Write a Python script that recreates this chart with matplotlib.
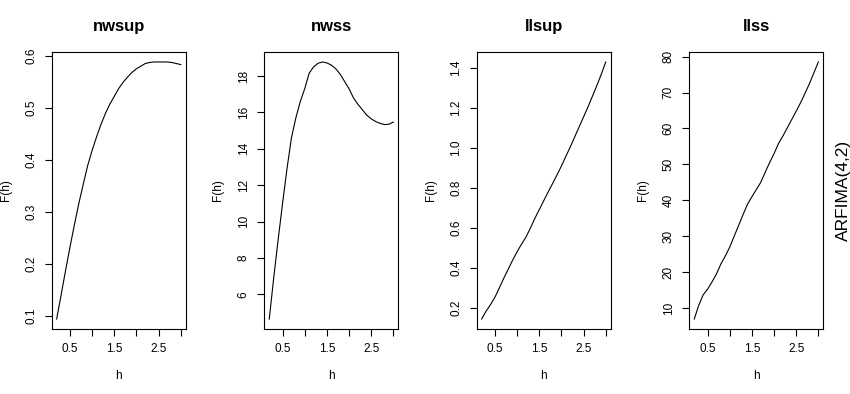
import numpy as np
import matplotlib
matplotlib.use('Agg')
from matplotlib import pyplot as plt

plt.rcParams['font.family'] = ['Liberation Sans', 'DejaVu Sans']

h = [0.2, 0.3, 0.4, 0.5, 0.6, 0.7, 0.8, 0.9, 1.0, 1.1, 1.2, 1.3, 1.4, 1.5, 1.6,
     1.7, 1.8, 1.9, 2.0, 2.1, 2.2, 2.3, 2.4, 2.5, 2.6, 2.7, 2.8, 2.9, 3.0]

nwsup = [0.094, 0.140, 0.187, 0.232, 0.275, 0.316, 0.353, 0.389, 0.418, 0.444,
         0.468, 0.489, 0.507, 0.522, 0.537, 0.549, 0.559, 0.568, 0.575, 0.580,
         0.585, 0.587, 0.588, 0.588, 0.588, 0.588, 0.587, 0.585, 0.583]
nwss = [4.65, 6.9, 9.0, 11.0, 12.9, 14.6, 15.7, 16.6, 17.3, 18.15,
        18.5, 18.7, 18.77, 18.72, 18.6, 18.4, 18.1, 17.7, 17.3, 16.8,
        16.45, 16.15, 15.85, 15.65, 15.5, 15.4, 15.33, 15.35, 15.47]
llsup = [0.146, 0.185, 0.218, 0.255, 0.302, 0.350, 0.395, 0.440, 0.482, 0.520,
         0.555, 0.600, 0.648, 0.692, 0.736, 0.780, 0.822, 0.865, 0.910, 0.958,
         1.005, 1.055, 1.105, 1.155, 1.205, 1.258, 1.312, 1.368, 1.429]
llss = [7.0, 10.8, 13.7, 15.3, 17.3, 19.5, 22.3, 24.5, 27.0, 30.0,
        33.0, 36.0, 38.9, 41.0, 43.0, 45.0, 47.8, 50.5, 53.0, 55.8,
        57.9, 60.2, 62.5, 64.8, 67.2, 69.8, 72.5, 75.5, 78.5]

titles = ['nwsup', 'nwss', 'llsup', 'llss']
series = [nwsup, nwss, llsup, llss]
yticks = [[0.1, 0.2, 0.3, 0.4, 0.5, 0.6],
          [6, 8, 10, 12, 14, 16, 18],
          [0.2, 0.4, 0.6, 0.8, 1.0, 1.2, 1.4],
          [10, 20, 30, 40, 50, 60, 70, 80]]
ylabels = [['0.1', '0.2', '0.3', '0.4', '0.5', '0.6'],
           ['6', '8', '10', '12', '14', '16', '18'],
           ['0.2', '0.4', '0.6', '0.8', '1.0', '1.2', '1.4'],
           ['10', '20', '30', '40', '50', '60', '70', '80']]
xticks = [0.5, 1.0, 1.5, 2.0, 2.5, 3.0]
xlabels = ['0.5', '', '1.5', '', '2.5', '']

W, H = 850, 394
fig = plt.figure(figsize=(W / 100, H / 100), dpi=100)
lefts = [51.7, 264.3, 476.7, 689.3]
top, bottom, width = 51.7, 329.3, 134.0

def r_range(v):
    # R-style 4% padding around the data range
    lo, hi = min(v), max(v)
    d = (hi - lo) * 0.04
    return lo - d, hi + d

for i in range(4):
    ax = fig.add_axes([lefts[i] / W, 1 - bottom / H, width / W, (bottom - top) / H])
    ax.plot(h, series[i], c='black', lw=0.8)
    ax.set_xlim(*r_range(h))
    ax.set_ylim(*r_range(series[i]))
    ax.set_xticks(xticks)
    ax.set_xticklabels(xlabels)
    ax.set_yticks(yticks[i])
    ax.set_yticklabels(ylabels[i], rotation=90, va='center')
    ax.tick_params(direction='out', length=5, width=0.8, labelsize=8.5, color='black')
    ax.tick_params(axis='x', pad=5)
    ax.tick_params(axis='y', pad=5.5)
    for s in ax.spines.values():
        s.set_linewidth(0.8)
    ax.set_title(titles[i], fontsize=12, fontweight='bold', pad=15)
    ax.set_xlabel('h', fontsize=8.5)
    ax.xaxis.set_label_coords(0.5, -0.145)
    ax.set_ylabel('F(h)', fontsize=8.5)
    ax.yaxis.set_label_coords(-0.30, 0.5)

fig.text(843 / W, 1 - 190.5 / H, 'ARFIMA(4,2)', rotation=90, ha='center', va='center', fontsize=12.5)

fig.savefig('out.png', dpi=100)
